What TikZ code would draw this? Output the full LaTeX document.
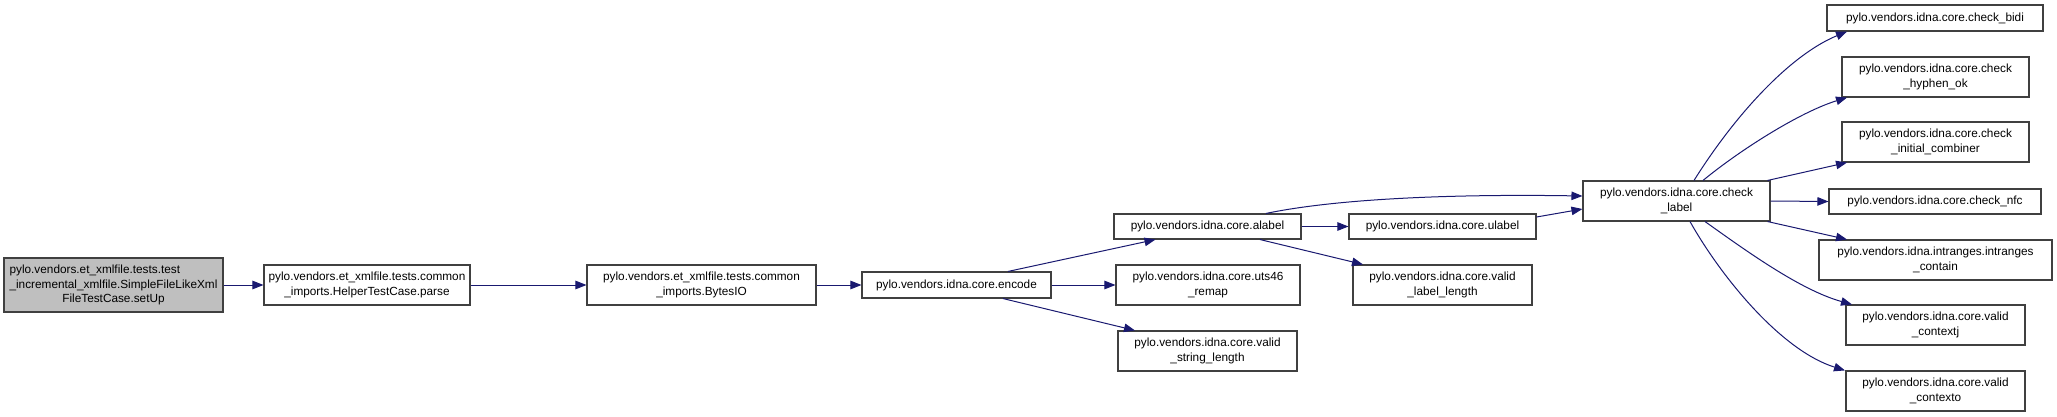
\documentclass[tikz,border=0pt]{standalone}
\usepackage{fontspec}
\setmainfont{Liberation Sans}
\usetikzlibrary{arrows.meta,calc}
\definecolor{edgecol}{HTML}{191970}
\definecolor{bordercol}{HTML}{404040}
\definecolor{rootfill}{HTML}{BFBFBF}
\begin{document}
\begin{tikzpicture}[x=1pt,y=-1pt,
  box/.style={draw=bordercol,line width=1.1pt,inner sep=0pt,align=center,
    font=\fontsize{11.8}{14.8}\selectfont,text=black,fill=white},
  edge/.style={draw=edgecol,line width=1pt,-{Triangle[length=11pt,width=8.5pt]}}]
\useasboundingbox (0,0) rectangle (2057,417);

\node[box,fill=rootfill,minimum width=219pt,minimum height=54pt] (setup) at (113.5,285)
  {\makebox[0pt][l]{pylo.vendors.et\_xmlfile.tests.test}\phantom{\_incremental\_xmlfile.SimpleFileLikeXml}\\\_incremental\_xmlfile.SimpleFileLikeXml\\FileTestCase.setUp};
\node[box,minimum width=206pt,minimum height=40pt] (parse) at (367,285)
  {pylo.vendors.et\_xmlfile.tests.common\\\_imports.HelperTestCase.parse};
\node[box,minimum width=229pt,minimum height=40pt] (bytesio) at (701.5,285)
  {pylo.vendors.et\_xmlfile.tests.common\\\_imports.BytesIO};
\node[box,minimum width=189pt,minimum height=26pt] (enc) at (956.5,285)
  {pylo.vendors.idna.core.encode};
\node[box,minimum width=187pt,minimum height=25pt] (alabel) at (1207.5,226.5)
  {pylo.vendors.idna.core.alabel};
\node[box,minimum width=184pt,minimum height=40pt] (uts) at (1208,285)
  {pylo.vendors.idna.core.uts46\\\_remap};
\node[box,minimum width=179pt,minimum height=40pt] (vsl) at (1207.5,351)
  {pylo.vendors.idna.core.valid\\\_string\_length};
\node[box,minimum width=187pt,minimum height=25pt] (ulabel) at (1442.5,226.5)
  {pylo.vendors.idna.core.ulabel};
\node[box,minimum width=179pt,minimum height=40pt] (vll) at (1442.5,285)
  {pylo.vendors.idna.core.valid\\\_label\_length};
\node[box,minimum width=187pt,minimum height=40pt] (cl) at (1676.5,201)
  {pylo.vendors.idna.core.check\\\_label};
\node[box,minimum width=216pt,minimum height=26pt] (bidi) at (1935,18)
  {pylo.vendors.idna.core.check\_bidi};
\node[box,minimum width=187pt,minimum height=40pt] (hyph) at (1935.5,77)
  {pylo.vendors.idna.core.check\\\_hyphen\_ok};
\node[box,minimum width=187pt,minimum height=40pt] (comb) at (1935.5,142)
  {pylo.vendors.idna.core.check\\\_initial\_combiner};
\node[box,minimum width=212pt,minimum height=25pt] (nfc) at (1935,201.5)
  {pylo.vendors.idna.core.check\_nfc};
\node[box,minimum width=233pt,minimum height=40pt] (intr) at (1935.5,260)
  {pylo.vendors.idna.intranges.intranges\\\_contain};
\node[box,minimum width=179pt,minimum height=40pt] (cj) at (1935.5,325)
  {pylo.vendors.idna.core.valid\\\_contextj};
\node[box,minimum width=179pt,minimum height=40pt] (co) at (1935.5,391)
  {pylo.vendors.idna.core.valid\\\_contexto};

\draw[edge] (setup.east) -- (parse.west);
\draw[edge] (parse.east) -- (bytesio.west);
\draw[edge] (bytesio.east) -- (enc.west);
\draw[edge] ($(enc.north)+(51.5,0)$) -- ($(alabel.south)+(-52,0)$);
\draw[edge] (enc.east) -- (uts.west);
\draw[edge] ($(enc.south)+(46.5,0)$) -- ($(vsl.north)+(-72.5,0)$);
\draw[edge] (alabel.east) -- (ulabel.west);
\draw[edge] ($(alabel.south)+(52.5,0)$) -- ($(vll.north)+(-79.5,0)$);
\draw[edge] ($(alabel.north)+(58.5,0)$) .. controls (1340,198) and (1460,194) .. ($(cl.west)+(0,-5)$);
\draw[edge] ($(ulabel.east)+(0,-9.5)$) -- ($(cl.west)+(0,8)$);
\draw[edge] ($(cl.north)+(17.5,0)$) .. controls (1735,115) and (1790,55) .. ($(bidi.south)+(-88,0)$);
\draw[edge] ($(cl.north)+(26.5,0)$) .. controls (1740,150) and (1800,112) .. ($(hyph.south)+(-88.5,0)$);
\draw[edge] ($(cl.north east)+(-3,0)$) -- ($(comb.south)+(-88.5,0)$);
\draw[edge] (cl.east) -- (nfc.west);
\draw[edge] ($(cl.south east)+(-3,0)$) -- ($(intr.north)+(-88.5,0)$);
\draw[edge] ($(cl.south)+(28.5,0)$) .. controls (1745,250) and (1800,290) .. ($(cj.north)+(-83.5,0)$);
\draw[edge] ($(cl.south)+(13.5,0)$) .. controls (1720,275) and (1780,350) .. ($(co.north)+(-90.5,0)$);
\end{tikzpicture}
\end{document}
